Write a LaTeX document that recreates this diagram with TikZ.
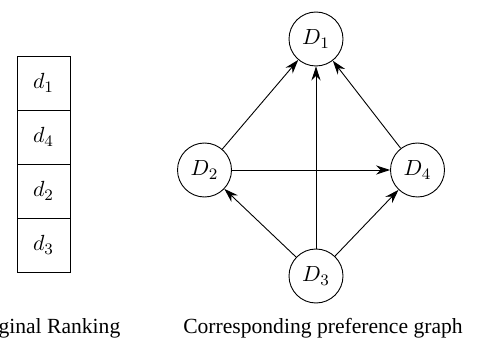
\documentclass[tikz,border=0pt]{standalone}
\usepackage{fontspec}
\setmainfont{Liberation Serif}
\usetikzlibrary{arrows.meta,positioning}

\begin{document}
\begin{tikzpicture}[
        x=0.5pt, y=-0.5pt,
        rankbox/.style={
            rectangle,
            draw=black,
            line width=0.45pt,
            outer sep=0pt,
            minimum width=26.5pt,
            minimum height=27pt,
            inner sep=0pt,
            font=\fontsize{11.4}{14}\selectfont
        },
        prefnode/.style={
            circle,
            draw=black,
            line width=0.45pt,
            minimum size=27pt,
            inner sep=0pt,
            font=\fontsize{11.4}{14}\selectfont
        },
        caption/.style={anchor=base, font=\fontsize{10.8}{13}\selectfont, inner sep=0pt},
        arrow/.style={-{Stealth[length=7pt, width=4.6pt]}, line width=0.45pt}
    ]
    \useasboundingbox (0,0) rectangle (477,342);

    % original ranking
    \node[rankbox] (r1) at (43.5,83) {$d_1$};
    \node[rankbox, below=0pt of r1] (r4) {$d_4$};
    \node[rankbox, below=0pt of r4] (r2) {$d_2$};
    \node[rankbox, below=0pt of r2] (r3) {$d_3$};
    \node[caption] (capL) at (45,333) {Original Ranking};

    % preference graph
    \node[prefnode] (D1) at (316,39) {$D_1$};
    \node[prefnode] (D2) at (204.5,170) {$D_2$};
    \node[prefnode] (D4) at (417.5,170) {$D_4$};
    \node[prefnode] (D3) at (316,276) {$D_3$};
    \node[caption] (capR) at (323,333) {Corresponding preference graph};

    \draw[arrow] (D2) -- (D1);
    \draw[arrow] (D4) -- (D1);
    \draw[arrow] (D3) -- (D1);
    \draw[arrow] (D2) -- (D4);
    \draw[arrow] (D3) -- (D2);
    \draw[arrow] (D3) -- (D4);
\end{tikzpicture}
\end{document}
